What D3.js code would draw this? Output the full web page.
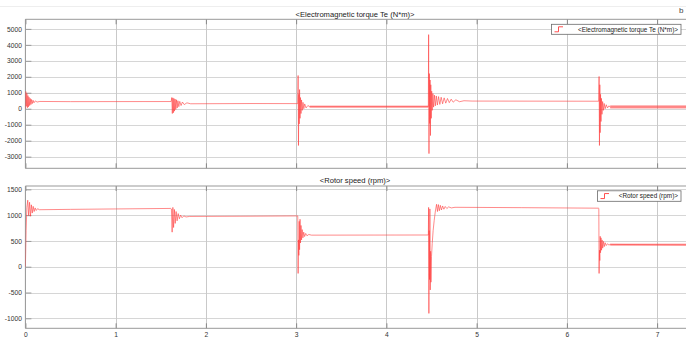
<!DOCTYPE html>
<html><head><meta charset="utf-8">
<script src="https://cdn.jsdelivr.net/npm/d3@7"></script>
<style>body{margin:0;background:#fff}svg{display:block}text{font-family:"Liberation Sans",Arial,sans-serif}</style>
</head><body><svg id="c" width="686" height="341"></svg>
<script>
// ---- data ----
const xTicks = [0,1,2,3,4,5,6,7];
const torqueTicks = [-3000,-2000,-1000,0,1000,2000,3000,4000,5000];
const speedTicks = [-1000,-500,0,500,1000,1500];
const torqueTitle = "<Electromagnetic torque Te (N*m)>";
const speedTitle = "<Rotor speed (rpm)>";
// [time s, torque N*m]
const torque = [[0,0],[0.004,1080],[0.01,150],[0.016,950],[0.022,60],[0.028,820],[0.034,120],[0.04,720],[0.047,200],[0.054,640],[0.061,260],[0.068,580],[0.076,320],[0.085,530],[0.095,370],[0.11,490],[0.13,420],[0.16,455],[0.5,445],[1.615,450],
[1.622,700],[1.628,-300],[1.634,680],[1.64,-250],[1.646,640],[1.652,-150],[1.659,600],[1.666,-50],[1.674,560],[1.682,50],[1.69,500],[1.70,130],[1.71,460],[1.725,200],[1.74,420],[1.76,260],[1.79,370],[1.83,310],[2.5,325],[3.018,320],
[3.022,2080],[3.026,-2300],[3.03,900],[3.034,-950],[3.038,1200],[3.043,-600],[3.048,700],[3.054,-300],[3.06,550],[3.068,-100],[3.076,400],[3.085,0],[3.095,300],[3.11,50],[3.13,200],[3.15,130],[4.465,130],
[4.468,4640],[4.472,-2810],[4.476,2200],[4.48,-920],[4.484,1800],[4.488,-1680],[4.492,1500],[4.497,-600],[4.502,1100],[4.508,-100],[4.515,950],[4.523,100],[4.532,850],[4.542,180],[4.553,800],[4.565,230],[4.578,760],[4.592,270],[4.607,720],[4.623,310],[4.64,680],[4.658,350],[4.677,640],[4.697,380],[4.718,600],[4.74,410],[4.77,560],[4.81,440],[4.86,500],[4.95,480],[6.353,470],
[6.357,2020],[6.361,-2300],[6.365,1500],[6.369,-1500],[6.373,900],[6.378,-800],[6.383,650],[6.389,-350],[6.396,450],[6.404,-100],[6.413,330],[6.424,0],[6.436,250],[6.45,50],[6.465,180],[6.48,110],[7.32,110]];
// [time s, speed rpm]
const speed = [[0,0],[0.008,700],[0.016,1150],[0.026,1290],[0.036,990],[0.046,1250],[0.056,980],[0.066,1200],[0.076,1040],[0.086,1170],[0.097,1070],[0.108,1140],[0.12,1090],[0.135,1125],[0.155,1105],[0.5,1112],[1.0,1120],[1.612,1130],
[1.618,1120],[1.626,670],[1.634,1150],[1.642,760],[1.651,1110],[1.66,840],[1.67,1070],[1.681,890],[1.693,1030],[1.706,930],[1.72,1000],[1.736,950],[1.755,985],[1.78,965],[1.82,975],[2.5,980],[3.018,985],
[3.022,-130],[3.026,520],[3.03,220],[3.034,880],[3.038,330],[3.043,920],[3.048,460],[3.054,800],[3.06,520],[3.067,720],[3.075,560],[3.084,670],[3.094,585],[3.106,645],[3.12,600],[3.14,625],[3.17,612],[4.465,615],
[4.468,1150],[4.471,-905],[4.474,700],[4.478,-250],[4.482,1120],[4.486,-450],[4.49,300],[4.494,-300],[4.5,200],[4.508,450],[4.518,700],[4.53,900],[4.543,1080],[4.556,1210],[4.566,1070],[4.576,1205],[4.587,1085],[4.598,1190],[4.61,1100],[4.623,1178],[4.637,1115],[4.652,1168],[4.67,1128],[4.69,1160],[4.72,1140],[4.76,1152],[5.5,1145],[6.35,1135],
[6.354,1130],[6.357,-130],[6.361,320],[6.365,120],[6.369,590],[6.373,270],[6.378,560],[6.384,320],[6.39,520],[6.397,360],[6.405,490],[6.414,390],[6.424,465],[6.436,410],[6.45,445],[6.466,420],[6.48,432],[7.32,425]];
// high-frequency ripple bands: start, end, low, high
const torqueRippleStart = [3.15, 6.48];
const torqueRippleEnd = [4.465, 7.32];
const torqueRippleLow = [60, 10];
const torqueRippleHigh = [200, 220];
const speedRippleStart = [6.48];
const speedRippleEnd = [7.32];
const speedRippleLow = [405];
const speedRippleHigh = [448];

// ---- drawing ----
const svg = d3.select("#c");
const RED = "#ff3c3c";
const x = d3.scaleLinear().domain([0, 7.32]).range([25.4, 686]);
const panels = [
  {data: torque, ticks: torqueTicks, title: torqueTitle, dom: [-3730, 5600], rng: [168.3, 19.3], titleY: 17,
   rs: torqueRippleStart, re: torqueRippleEnd, rl: torqueRippleLow, rh: torqueRippleHigh,
   legend: {x: 551.5, y: 24.3, w: 129.5, h: 10, label: torqueTitle}, xlabels: false},
  {data: speed, ticks: speedTicks, title: speedTitle, dom: [-1194, 1565], rng: [328.3, 186], titleY: 183,
   rs: speedRippleStart, re: speedRippleEnd, rl: speedRippleLow, rh: speedRippleHigh,
   legend: {x: 597.5, y: 190.8, w: 83.5, h: 10.5, label: speedTitle}, xlabels: true}
];

svg.append("line").attr("x1",0).attr("x2",686).attr("y1",6.5).attr("y2",6.5).attr("stroke","#eeeeee");
svg.append("text").attr("x",679).attr("y",13).attr("font-size",8).attr("fill","#444").text("b");

panels.forEach((p, i) => {
  const y = d3.scaleLinear().domain(p.dom).range(p.rng);
  const top = p.rng[1], bot = p.rng[0], left = x.range()[0], right = x.range()[1];
  const g = svg.append("g");
  // horizontal grid
  g.append("g").selectAll("line").data(p.ticks).join("line")
    .attr("x1", left).attr("x2", right).attr("y1", d => Math.round(y(d))+0.5).attr("y2", d => Math.round(y(d))+0.5)
    .attr("stroke", "#d6d6d6").attr("stroke-width", 1);
  // vertical grid
  g.append("g").selectAll("line").data(xTicks).join("line")
    .attr("x1", d => Math.round(x(d))+0.5).attr("x2", d => Math.round(x(d))+0.5).attr("y1", top).attr("y2", bot)
    .attr("stroke", "#c9c9c9").attr("stroke-width", 1);
  // y axis (inner ticks)
  const ya = g.append("g").attr("transform", `translate(${left},0)`)
    .call(d3.axisLeft(y).tickValues(p.ticks).tickSize(-6).tickPadding(3.5).tickFormat(d => d < 0 ? "-" + Math.abs(d) : String(d)));
  ya.select(".domain").remove();
  ya.selectAll("line").attr("stroke", "#9a9a9a");
  ya.selectAll("text").attr("font-size", 6.7).attr("fill", "#333").attr("font-family", '"Liberation Sans",Arial,sans-serif');
  // x axis bottom ticks
  const xa = g.append("g").attr("transform", `translate(0,${bot})`)
    .call(d3.axisBottom(x).tickValues(xTicks).tickSize(-5).tickPadding(p.xlabels ? 4 : 0).tickFormat(d => p.xlabels ? String(d) : ""));
  xa.select(".domain").remove();
  xa.selectAll("line").attr("stroke", "#888");
  xa.selectAll("text").attr("font-size", 6.7).attr("fill", "#333").attr("font-family", '"Liberation Sans",Arial,sans-serif');
  // x top ticks
  const xt = g.append("g").attr("transform", `translate(0,${top})`)
    .call(d3.axisTop(x).tickValues(xTicks).tickSize(-5).tickFormat(""));
  xt.select(".domain").remove();
  xt.selectAll("line").attr("stroke", "#888");
  // frame
  g.append("line").attr("x1", left).attr("x2", right).attr("y1", top).attr("y2", top).attr("stroke", "#999");
  g.append("line").attr("x1", left).attr("x2", right).attr("y1", bot).attr("y2", bot).attr("stroke", "#999");
  g.append("line").attr("x1", left).attr("x2", left).attr("y1", top).attr("y2", bot).attr("stroke", "#999");
  // clip
  const cid = "clip" + i;
  svg.append("clipPath").attr("id", cid).append("rect").attr("x", left).attr("y", top).attr("width", right-left).attr("height", bot-top);
  const plot = g.append("g").attr("clip-path", `url(#${cid})`);
  // ripple bands
  p.rs.forEach((s, k) => {
    plot.append("rect").attr("x", x(s)).attr("width", x(p.re[k]) - x(s))
      .attr("y", y(p.rh[k])).attr("height", y(p.rl[k]) - y(p.rh[k]))
      .attr("fill", RED).attr("opacity", 0.45);
  });
  // signal
  const line = d3.line().x(d => x(d[0])).y(d => y(d[1]));
  plot.append("path").datum(p.data).attr("d", line).attr("fill", "none")
    .attr("stroke", RED).attr("stroke-width", 0.8).attr("stroke-opacity", 0.75).attr("stroke-linejoin", "round");
  // title
  svg.append("text").attr("x", 355).attr("y", p.titleY).attr("text-anchor", "middle")
    .attr("font-size", 7.6).attr("fill", "#222").text(p.title);
  // legend
  const L = p.legend;
  const lg = svg.append("g");
  lg.append("rect").attr("x", L.x).attr("y", L.y).attr("width", L.w).attr("height", L.h)
    .attr("fill", "#fff").attr("stroke", "#6a6a6a").attr("stroke-width", 0.8);
  const iy = L.y + L.h/2;
  lg.append("path").attr("d", `M${L.x+3},${iy+2.5}H${L.x+7}V${iy-2.5}H${L.x+11.5}`)
    .attr("fill", "none").attr("stroke", RED).attr("stroke-width", 0.9);
  lg.append("text").attr("x", L.x + L.w - 3).attr("y", iy + 2.2).attr("text-anchor", "end")
    .attr("font-size", 6.4).attr("fill", "#222").text(L.label);
});
</script></body></html>
